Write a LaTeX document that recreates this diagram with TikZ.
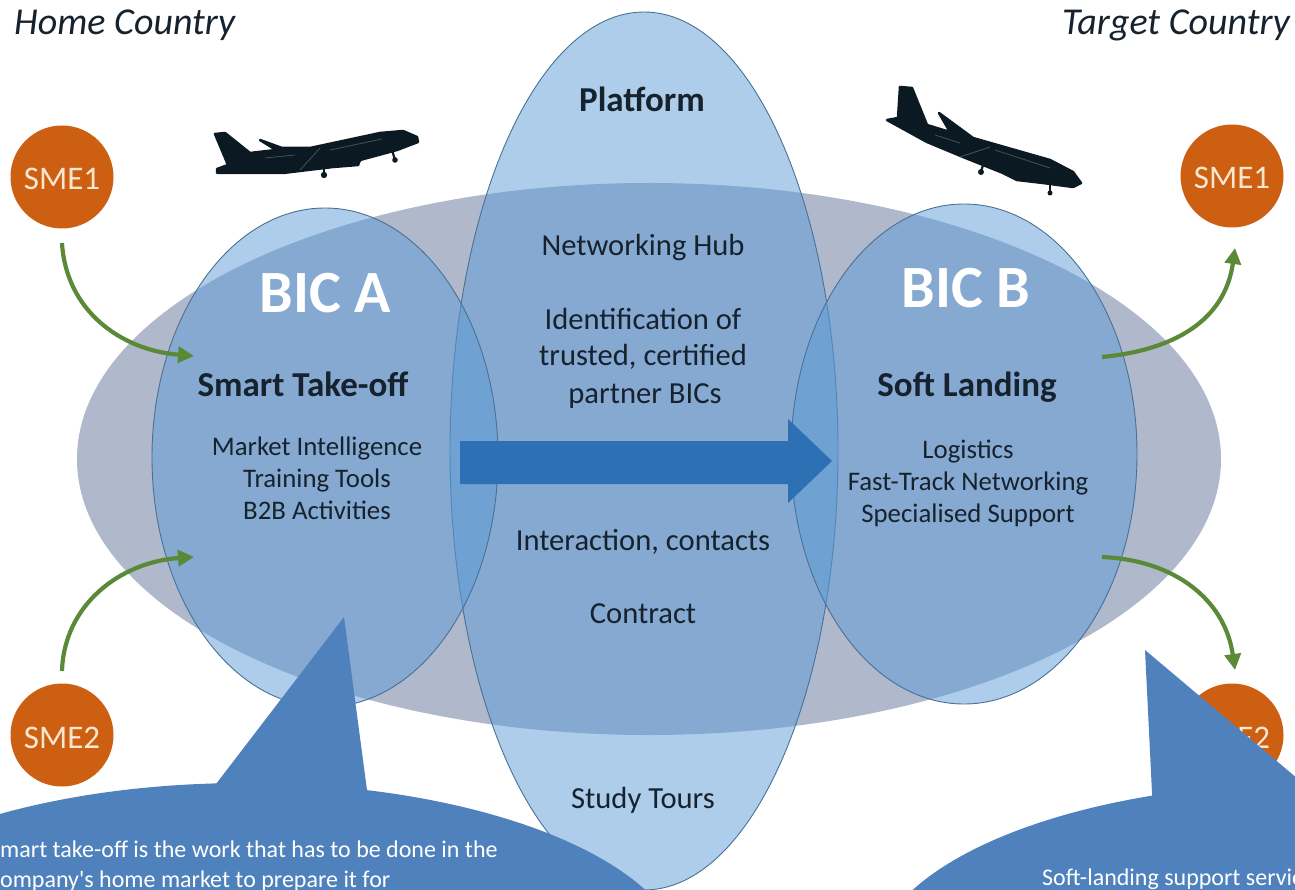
\documentclass[tikz,border=0pt]{standalone}
\usepackage{fontspec}
\setmainfont{Carlito}
\usetikzlibrary{shapes.geometric,arrows.meta}
\definecolor{bigc}{HTML}{B0B8CC}
\definecolor{ovalc}{HTML}{5B9BD5}
\definecolor{ovaledge}{HTML}{4A7195}
\definecolor{smec}{HTML}{CC5F12}
\definecolor{smetext}{HTML}{FBE6D0}
\definecolor{arrowg}{HTML}{5A8A38}
\definecolor{bandc}{HTML}{2E70B4}
\definecolor{callc}{HTML}{4F81BD}
\definecolor{planec}{HTML}{0B1A22}
\definecolor{inkc}{HTML}{16222E}
\newcommand{\fs}[1]{\fontsize{#1}{#1}\selectfont}
\tikzset{
  oval/.style={ellipse,inner sep=0pt,fill=ovalc,fill opacity=0.5,draw=ovaledge,line width=0.9pt},
  sme/.style={circle,fill=smec,minimum size=103pt,inner sep=0pt},
  smelabel/.style={anchor=base,text=smetext,inner sep=0pt,font=\fs{33}},
  corner/.style={anchor=base,font=\fs{38}\itshape,text=inkc,inner sep=0pt},
  bigbic/.style={anchor=base,font=\fs{60}\bfseries,text=white,inner sep=0pt},
  head/.style={anchor=base,font=\fs{35}\bfseries,text=inkc,inner sep=0pt},
  item/.style={anchor=base,font=\fs{26.8},text=inkc,inner sep=0pt},
  mid/.style={anchor=base,font=\fs{30.6},text=inkc,inner sep=0pt},
  flow/.style={draw=arrowg,line width=4.2pt,-{Triangle[length=16pt,width=16pt]}},
  plane/.style={fill=planec,draw=planec,line width=2.5pt,line join=round},
  gear/.style={draw=planec,line width=2.2pt},
  stripe/.style={draw=white!60!planec,line width=0.8pt,opacity=0.4},
  callout/.style={ellipse,fill=callc,inner sep=0pt,minimum width=880pt,minimum height=366pt},
  calltext/.style={font=\fs{24},text=white,inner sep=0pt,anchor=base west}
}
\begin{document}
\begin{tikzpicture}[x=1pt,y=-1pt]
\useasboundingbox (0,0) rectangle (1295,890);
\clip (0,0) rectangle (1295,890);
% big ellipse
\node[ellipse,fill=bigc,inner sep=0pt,minimum width=1144pt,minimum height=552pt] (big) at (649,459) {};
% ovals
\node[oval,minimum width=388pt,minimum height=878pt] (platform) at (644,451) {};
\node[oval,minimum width=346pt,minimum height=499pt] (bica) at (325,457.5) {};
\node[oval,minimum width=346pt,minimum height=500pt] (bicb) at (964,454) {};
% central arrow
\fill[bandc] (460,441) -- (788,441) -- (788,419) -- (832,461) -- (788,503) -- (788,484) -- (460,484) -- cycle;
% SMEs
\node[sme] (s1l) at (62,177) {};
\node[sme] (s2l) at (62,735) {};
\node[sme] (s1r) at (1232,176) {};
\node[sme] (s2r) at (1232,735) {};
\node[smelabel] (t1l) at (62,190) {SME1};
\node[smelabel] (t2l) at (62,748) {SME2};
\node[smelabel] (t1r) at (1232,189) {SME1};
\node[smelabel] (t2r) at (1232,748) {SME2};
% corner labels
\node[corner,anchor=base west] (home) at (14,35) {Home Country};
\node[corner,anchor=base east] (target) at (1290,35) {Target Country};
% labels
\node[bigbic] (la) at (325,313) {BIC A};
\node[bigbic] (lb) at (966,308) {BIC B};
\node[head] (ptf) at (642,112) {Platform};
\node[head] (sto) at (303,396) {Smart Take-off};
\node[head] (sla) at (967,396) {Soft Landing};
\node[item] (a1) at (317,455) {Market Intelligence};
\node[item] (a2) at (317,487) {Training Tools};
\node[item] (a3) at (317,519) {B2B Activities};
\node[item] (b1) at (968,458) {Logistics};
\node[item] (b2) at (968,490) {Fast-Track Networking};
\node[item] (b3) at (968,522) {Specialised Support};
\node[mid] (m1) at (643,256) {Networking Hub};
\node[mid] (m2) at (643,330) {Identification of};
\node[mid] (m3) at (643,366) {trusted, certified};
\node[mid] (m4) at (645,403) {partner BICs};
\node[mid] (m5) at (643,550) {Interaction, contacts};
\node[mid] (m6) at (643,623) {Contract};
\node[mid] (m7) at (643,808) {Study Tours};
% green arrows
\coordinate (g1a) at (62,243); \coordinate (g1b) at (194,356);
\coordinate (g2a) at (62,671); \coordinate (g2b) at (194,557);
\coordinate (g3a) at (1102,357); \coordinate (g3b) at (1235,248);
\coordinate (g4a) at (1102,557); \coordinate (g4b) at (1235,670);
\draw[flow] (g1a) .. controls (66,310) and (120,350) .. (g1b);
\draw[flow] (g2a) .. controls (64,605) and (120,562) .. (g2b);
\draw[flow] (g3a) .. controls (1175,350) and (1225,320) .. (g3b);
\draw[flow] (g4a) .. controls (1175,560) and (1225,600) .. (g4b);
% planes
\path[plane] (215,134) -- (225,133) -- (250,153) -- (276,150) -- (260,140) -- (282,148) -- (310,148) -- (380,133) -- (403,131) -- (417,137) -- (418,142) -- (397,150) -- (360,160) -- (358,165) -- (333,167) -- (283,173) -- (217,173) -- (217,169) -- (228,165) -- cycle;
\draw[gear] (324,165) -- (324,175);
\fill[planec] (324,175) circle (3.2);
\draw[gear] (392,150) -- (395,160);
\fill[planec] (395,160) circle (2.8);
\draw[stripe] (300,170) -- (320,148);
\draw[stripe] (265,158) -- (295,155);
\draw[stripe] (330,150) -- (382,139);
\path[plane] (900,87) -- (912,88) -- (927,125) -- (950,132) -- (939,113) -- (973,138) -- (1050,160) -- (1073,172) -- (1081,183) -- (1073,187) -- (1043,183) -- (1017,180) -- (1003,173) -- (963,157) -- (927,142) -- (887,120) -- (898,118) -- cycle;
\draw[gear] (983,165) -- (981,172);
\fill[planec] (981,172) circle (3);
\draw[gear] (1050,182) -- (1050,192);
\fill[planec] (1050,193) circle (2.5);
\draw[stripe] (960,157) -- (990,147);
\draw[stripe] (935,135) -- (960,143);
\draw[stripe] (995,150) -- (1050,168);
% callouts
\coordinate (t1a) at (216,784); \coordinate (t1b) at (344,617); \coordinate (t1c) at (367,790);
\node[callout] (c1) at (245,966) {};
\fill[callc] (t1a) -- (t1b) -- (t1c) -- (367,830) -- (216,830) -- cycle;
\coordinate (t2a) at (1152,793); \coordinate (t2b) at (1145,650); \coordinate (t2c) at (1400,865);
\node[callout] (c2) at (1313,966) {};
\fill[callc] (t2a) -- (t2b) -- (t2c) -- (1152,865) -- cycle;
\node[calltext] (ct1) at (-11,857) {Smart take-off is the work that has to be done in the};
\node[calltext] (ct2) at (-10,887) {company\textquotesingle s home market to prepare it for};
\node[calltext] (ct3) at (1042,885) {Soft-landing support services};
\end{tikzpicture}
\end{document}
